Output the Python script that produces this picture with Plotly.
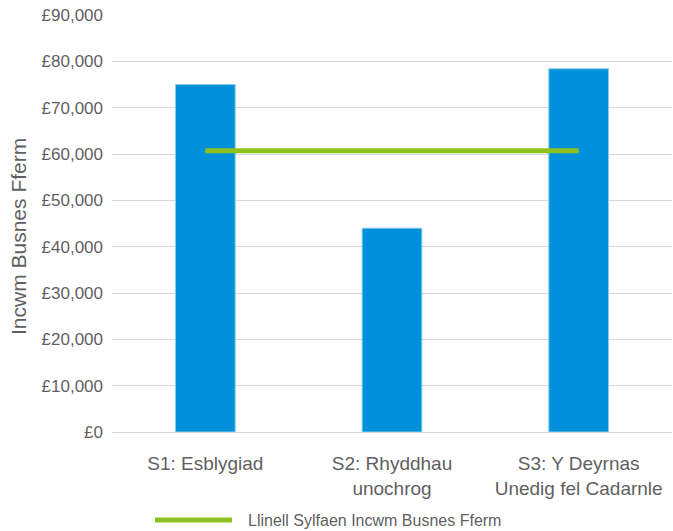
import plotly.graph_objects as go

categories = ["S1: Esblygiad", "S2: Rhyddhau<br>unochrog", "S3: Y Deyrnas<br>Unedig fel Cadarnle"]
income = [75000, 44000, 78400]
baseline = [60700, 60700, 60700]
baseline_name = "Llinell Sylfaen Incwm Busnes Fferm"
y_title = "Incwm Busnes Fferm"
tick_vals = [0, 10000, 20000, 30000, 40000, 50000, 60000, 70000, 80000, 90000]
tick_text = ["£0", "£10,000", "£20,000", "£30,000", "£40,000", "£50,000",
             "£60,000", "£70,000", "£80,000", "£90,000"]

FONT = "Liberation Sans, Arial, sans-serif"
GREY = "#5f5f5f"
BLUE = "#0091DA"
GREEN = "#8DC21F"

fig = go.Figure()
fig.add_trace(go.Bar(
    x=categories, y=income, width=0.32,
    marker=dict(color=BLUE, line=dict(color="#8CCBEE", width=1)),
    showlegend=False, hoverinfo="y",
))
fig.add_trace(go.Scatter(
    x=categories, y=baseline, mode="lines", name=baseline_name,
    line=dict(color=GREEN, width=5), showlegend=False,
))

# legend drawn in paper space (long line sample as in reference)
LEG_Y = (432 - 520) / 417
fig.add_shape(type="line", xref="paper", yref="paper",
              x0=(155 - 112) / 560, x1=(232 - 112) / 560, y0=LEG_Y, y1=LEG_Y,
              line=dict(color=GREEN, width=5))
fig.add_annotation(xref="paper", yref="paper", x=(246 - 112) / 560, y=LEG_Y,
                   text=baseline_name, showarrow=False, xanchor="left",
                   yanchor="middle", font=dict(family=FONT, size=16, color=GREY))
# y-axis title
fig.add_annotation(xref="paper", yref="paper", x=(18 - 112) / 560, y=(432 - 237) / 417,
                   text=y_title, showarrow=False, textangle=-90,
                   xanchor="center", yanchor="middle",
                   font=dict(family=FONT, size=21, color=GREY))

fig.update_layout(
    width=673, height=531,
    margin=dict(l=112, r=1, t=15, b=99, autoexpand=False),
    paper_bgcolor="white", plot_bgcolor="white",
    font=dict(family=FONT, color=GREY),
    bargap=0.68,
)
fig.update_xaxes(
    tickfont=dict(family=FONT, size=19, color=GREY),
    showgrid=False, showline=False, ticks="", automargin=False,
    ticklabelstandoff=18,
)
fig.update_yaxes(
    range=[0, 90000], tickvals=tick_vals, ticktext=tick_text,
    tickfont=dict(family=FONT, size=17, color=GREY),
    showgrid=True, gridcolor="#D9D9D9", gridwidth=1,
    zeroline=True, zerolinecolor="#D9D9D9", zerolinewidth=1,
    showline=False, ticks="", ticklabelstandoff=8, automargin=False,
)

fig.write_html(
    "out.html",
    config={"displayModeBar": False},
    post_script="document.body.style.margin='0';document.body.style.overflow='hidden';",
)
